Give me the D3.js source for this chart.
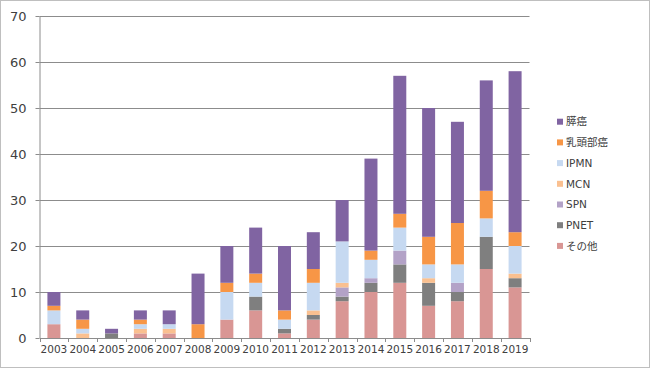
<!DOCTYPE html>
<html><head><meta charset="utf-8">
<script src="https://cdn.jsdelivr.net/npm/d3@7/dist/d3.min.js"></script>
<style>body{margin:0;background:#fff}svg{display:block}</style>
</head><body><svg id="c" width="650" height="368"></svg>
<script>
const years = ["2003","2004","2005","2006","2007","2008","2009","2010","2011","2012","2013","2014","2015","2016","2017","2018","2019"];
const seriesNames = ["その他","PNET","SPN","MCN","IPMN","乳頭部癌","膵癌"];
const sonota  = [3,0,0,1,1,0,4,6,1,4,8,10,12,7,8,15,11];
const pnet    = [0,0,1,0,0,0,0,3,1,1,1,2,4,5,2,7,2];
const spn     = [0,0,0,0,0,0,0,0,0,0,2,1,3,0,2,0,0];
const mcn     = [0,1,0,1,1,0,0,0,0,1,1,0,0,1,0,0,1];
const ipmn    = [3,1,0,1,1,0,6,3,2,6,9,4,5,3,4,4,6];
const nyuto   = [1,2,0,1,0,3,2,2,2,3,0,2,3,6,9,6,3];
const suigan  = [3,2,1,2,3,11,8,10,14,8,9,20,30,28,22,24,35];
const yTicks = [0,10,20,30,40,50,60,70];
const colors = ["#D99694","#7F7F7F","#B3A2C7","#FAC090","#C6D9F1","#F79646","#8064A2"];
const legendOrder = ["膵癌","乳頭部癌","IPMN","MCN","SPN","PNET","その他"];

const vals = [sonota,pnet,spn,mcn,ipmn,nyuto,suigan];
const table = years.map((y,i)=>{const o={year:y}; seriesNames.forEach((s,k)=>o[s]=vals[k][i]); return o;});
const stack = d3.stack().keys(seriesNames)(table);

const svg = d3.select("#c");
const font = "'DejaVu Sans', Verdana, sans-serif";
const L=39.5, R=529.5, T=16, B=338;
svg.append("rect").attr("x",0.5).attr("y",0.5).attr("width",649).attr("height",367).attr("fill","#fff").attr("stroke","#bfbfbf");

const x = d3.scaleBand().domain(years).range([L,R]).padding(0);
const y = d3.scaleLinear().domain([0,70]).range([B,T]);
const bw = 13;

// gridlines
svg.append("g").selectAll("line").data(yTicks.filter(d=>d>0)).join("line")
  .attr("x1",L).attr("x2",R).attr("y1",d=>Math.round(y(d))+0.5).attr("y2",d=>Math.round(y(d))+0.5)
  .attr("stroke","#8c8c8c").attr("stroke-width",1);

// bars
const g = svg.append("g");
stack.forEach((layer,k)=>{
  g.append("g").attr("fill",colors[k]).selectAll("rect").data(layer).join("rect")
    .attr("x",d=>x(d.data.year)+(x.bandwidth()-bw)/2)
    .attr("width",bw)
    .attr("y",d=>y(d[1]))
    .attr("height",d=>y(d[0])-y(d[1]));
});

// y axis
const ya = svg.append("g").attr("transform",`translate(${L},0)`)
  .call(d3.axisLeft(y).tickValues(yTicks).tickSize(4).tickPadding(9).tickSizeOuter(0));
ya.select(".domain").attr("stroke","#8c8c8c");
ya.selectAll(".tick line").attr("stroke","#8c8c8c");
ya.selectAll("text").attr("font-family",font).attr("font-size","13px").attr("fill","#404040");

// x axis
const xa = svg.append("g").attr("transform",`translate(0,${B})`)
  .call(d3.axisBottom(x).tickSize(0).tickPadding(8));
xa.select(".domain").attr("stroke","#8c8c8c");
xa.selectAll("text").attr("font-family",font).attr("font-size","10.5px").attr("fill","#404040");
xa.append("g").selectAll("line").data(years.map(d=>x(d)).concat([R])).join("line")
  .attr("x1",d=>Math.round(d)+0.5).attr("x2",d=>Math.round(d)+0.5).attr("y1",0).attr("y2",4).attr("stroke","#8c8c8c");

// legend
const lg = svg.append("g");
legendOrder.forEach((name,i)=>{
  const k = seriesNames.indexOf(name);
  const yy = 121.7 + i*20.7;
  lg.append("rect").attr("x",557).attr("y",yy-3).attr("width",6).attr("height",6).attr("fill",colors[k]);
  lg.append("text").attr("x",566).attr("y",yy).attr("dy","0.36em")
    .attr("font-family","'DejaVu Sans','Noto Sans CJK JP',sans-serif").attr("font-size","10.5px").attr("fill","#404040").text(name);
});
</script></body></html>
